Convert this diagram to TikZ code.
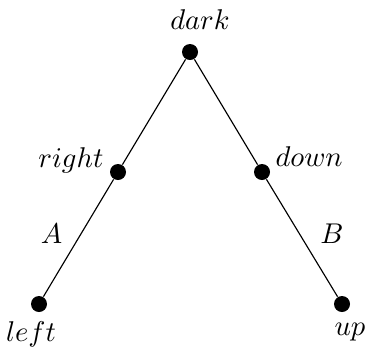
\documentclass[tikz,border=0pt]{standalone}
\usetikzlibrary{positioning}
\begin{document}
\begin{tikzpicture}[x=0.35pt,y=-0.35pt,
  dot/.style={circle,fill,inner sep=0pt,minimum size=5.6pt},
  lbl/.style={inner sep=0pt}]
\useasboundingbox (0,0) rectangle (367,347);
% vertices
\node[dot] (dark) at (190,52) {};
\node[dot] (right) at (118,172) {};
\node[dot] (down) at (262,172) {};
\node[dot] (left) at (39,304) {};
\node[dot] (up) at (342,304) {};
% vertex names
\node[lbl, anchor=base] (darklbl) at ([shift={(10,-23)}]dark) {$dark$};
\node[lbl, anchor=base east] (rightlbl) at ([shift={(-14,-5)}]right) {$right$};
\node[lbl, anchor=base west] (downlbl) at ([shift={(13,-6)}]down) {$down$};
\node[lbl, anchor=base] (leftlbl) at ([shift={(-8,37)}]left) {$left$};
\node[lbl, anchor=base] (uplbl) at ([shift={(8,31)}]up) {$up$};
% edges
\draw (dark) -- (right);
\draw (right) -- node[lbl, anchor=base, shift={(-27,5)}] (a) {$A$} (left);
\draw (dark) -- (down);
\draw (down) -- node[lbl, anchor=base, shift={(30,5)}] (b) {$B$} (up);
\end{tikzpicture}
\end{document}
